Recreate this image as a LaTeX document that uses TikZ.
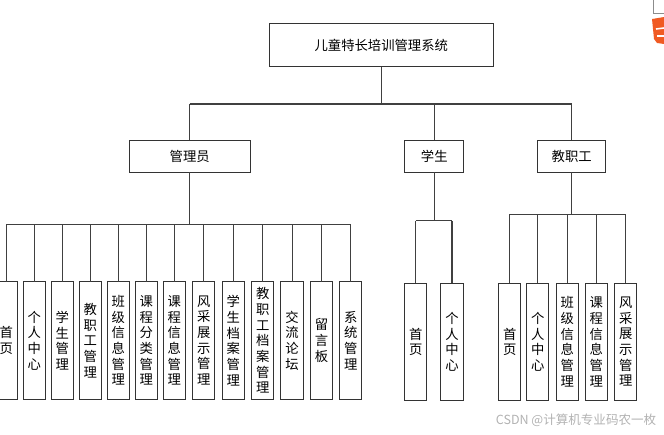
\documentclass[tikz,border=0pt]{standalone}
\usepackage{xcolor}
\usepackage{fontspec}
\setmainfont{Noto Sans CJK SC}
\usetikzlibrary{positioning}
\definecolor{logoorange}{RGB}{240,90,35}

\begin{document}
\begin{tikzpicture}[
  x=0.75pt, y=0.75pt,
  node distance=4.2pt,
  every node/.style={font=\fontsize{10pt}{11.75pt}\selectfont, outer sep=0pt},
  box/.style={draw=black!80, line width=0.75pt, align=center, inner sep=0pt, minimum height=24pt},
  leaf/.style={draw=black!80, line width=0.75pt, align=center, inner sep=0pt, text width=16.8pt, minimum height=88pt},
  link/.style={draw=black!75, line width=0.8pt}
]
\useasboundingbox (0,0) rectangle (664,-435);
% top levels
\node[box, minimum width=168pt, minimum height=32.5pt] (root) at (381.3,-45.3) {儿童特长培训管理系统};
\node[box, minimum width=90.5pt] (admin) at (189.7,-156) {管理员};
\node[box, minimum width=44.5pt] (student) at (434.3,-156) {学生};
\node[box, minimum width=51pt] (staff) at (571.7,-156) {教职工};
% admin leaves
\node[leaf] (a1) at (6.4,-340.5) {首\\页};
\node[leaf, right=of a1] (a2) {个\\人\\中\\心};
\node[leaf, right=of a2] (a3) {学\\生\\管\\理};
\node[leaf, right=of a3] (a4) {教\\职\\工\\管\\理};
\node[leaf, right=of a4] (a5) {班\\级\\信\\息\\管\\理};
\node[leaf, right=of a5] (a6) {课\\程\\分\\类\\管\\理};
\node[leaf, right=of a6] (a7) {课\\程\\信\\息\\管\\理};
\node[leaf, right=5.2pt of a7] (a8) {风\\采\\展\\示\\管\\理};
\node[leaf, right=5.3pt of a8] (a9) {学\\生\\档\\案\\管\\理};
\node[leaf, right=5.3pt of a9] (a10) {教\\职\\工\\档\\案\\管\\理};
\node[leaf, right=5.3pt of a10] (a11) {交\\流\\论\\坛};
\node[leaf, right=5.3pt of a11] (a12) {留\\言\\板};
\node[leaf, right=5pt of a12] (a13) {系\\统\\管\\理};
% student leaves
\node[leaf] (s1) at (415.7,-341.8) {首\\页};
\node[leaf, right=10.4pt of s1] (s2) {个\\人\\中\\心};
% staff leaves
\node[leaf] (t1) at (509.7,-341.8) {首\\页};
\node[leaf, right=of t1] (t2) {个\\人\\中\\心};
\node[leaf, right=5.4pt of t2] (t3) {班\\级\\信\\息\\管\\理};
\node[leaf, right=5pt of t3] (t4) {课\\程\\信\\息\\管\\理};
\node[leaf, right=5.2pt of t4] (t5) {风\\采\\展\\示\\管\\理};
% mark
\node[text=black!30, font=\fontsize{9.4pt}{11pt}\selectfont] (mark) at (576,-420.5) {CSDN @计算机专业码农一枚};
\draw[black!45, line width=0.6pt] (653.5,0) -- (653.5,-13) -- (664,-13);
\fill[logoorange] (652,-19) -- (664,-17) -- (664,-44) -- (657,-43) -- (654,-39) -- cycle;
\draw[white, line width=1.2pt] (656,-29) -- (664,-28);
\draw[white, line width=1.2pt] (657,-36) -- (664,-36);
% bus levels
\coordinate (topbus) at (381.3,-104);
\coordinate (adminbus) at (189.7,-224.3);
\coordinate (studentbus) at (434.3,-220.7);
\coordinate (staffbus) at (571.7,-214.3);
\draw[link] (root) -- (topbus);
\draw[link] (topbus -| admin) -- (topbus -| staff);
\draw[link] (admin.north) -- (topbus -| admin);
\draw[link] (student.north) -- (topbus -| student);
\draw[link] (staff.north) -- (topbus -| staff);
\draw[link] (admin) -- (adminbus);
\draw[link] (adminbus -| a1) -- (adminbus -| a13);
\draw[link] (a1.north) -- (adminbus -| a1);
\draw[link] (a2.north) -- (adminbus -| a2);
\draw[link] (a3.north) -- (adminbus -| a3);
\draw[link] (a4.north) -- (adminbus -| a4);
\draw[link] (a5.north) -- (adminbus -| a5);
\draw[link] (a6.north) -- (adminbus -| a6);
\draw[link] (a7.north) -- (adminbus -| a7);
\draw[link] (a8.north) -- (adminbus -| a8);
\draw[link] (a9.north) -- (adminbus -| a9);
\draw[link] (a10.north) -- (adminbus -| a10);
\draw[link] (a11.north) -- (adminbus -| a11);
\draw[link] (a12.north) -- (adminbus -| a12);
\draw[link] (a13.north) -- (adminbus -| a13);
\draw[link] (student) -- (studentbus);
\draw[link] (studentbus -| s1) -- (studentbus -| s2);
\draw[link] (s1.north) -- (studentbus -| s1);
\draw[link] (s2.north) -- (studentbus -| s2);
\draw[link] (staff) -- (staffbus);
\draw[link] (staffbus -| t1) -- (staffbus -| t5);
\draw[link] (t1.north) -- (staffbus -| t1);
\draw[link] (t2.north) -- (staffbus -| t2);
\draw[link] (t3.north) -- (staffbus -| t3);
\draw[link] (t4.north) -- (staffbus -| t4);
\draw[link] (t5.north) -- (staffbus -| t5);
\end{tikzpicture}
\end{document}
